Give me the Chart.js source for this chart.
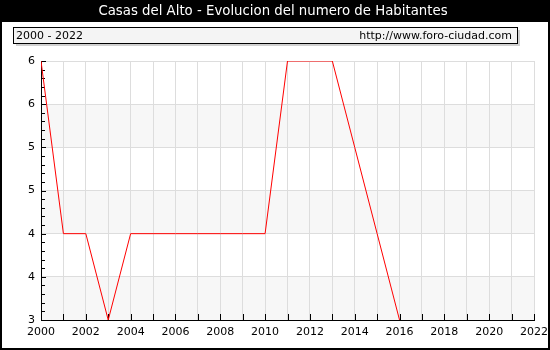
<!DOCTYPE html>
<html>
<head>
<meta charset="utf-8">
<script src="https://cdn.jsdelivr.net/npm/chart.js@4.4.1/dist/chart.umd.min.js"></script>
<style>
  html, body { margin: 0; padding: 0; background: #fff; }
  #wrap { width: 550px; height: 350px; position: relative; }
</style>
</head>
<body>
<div id="wrap"><canvas id="chart" width="550" height="350"></canvas></div>
<script>
// data
const years = [2000, 2001, 2002, 2003, 2004, 2005, 2006, 2007, 2008, 2009, 2010,
               2011, 2012, 2013, 2014, 2015, 2016];
const habitantes = [6, 4, 4, 3, 4, 4, 4, 4, 4, 4, 4, 6, 6, 6, 5, 4, 3];
const yearRange = [2000, 2022];
const valueRange = [3, 6];

const titleText = "Casas del Alto - Evolucion del numero de Habitantes";
const periodText = "2000 - 2022";
const siteText = "http://www.foro-ciudad.com";

const FONT = "'DejaVu Sans', Verdana, sans-serif";

// background: black title bar, header box, alternating bands
const decorPlugin = {
  id: "decor",
  beforeDraw(chart) {
    const ctx = chart.ctx;
    const area = chart.chartArea;
    const y = chart.scales.y;
    ctx.save();
    ctx.fillStyle = "#fff";
    ctx.fillRect(0, 0, chart.width, chart.height);

    // title bar
    ctx.fillStyle = "#000";
    ctx.fillRect(0, 0, chart.width, 22);
    ctx.fillStyle = "#fff";
    ctx.font = "13.3px " + FONT;
    ctx.textAlign = "center";
    ctx.textBaseline = "middle";
    ctx.fillText(titleText, 273, 12);

    // header box with shadow
    ctx.fillStyle = "#d0d0d0";
    ctx.fillRect(16, 30, 504, 16);
    ctx.fillStyle = "#f4f4f4";
    ctx.fillRect(13.5, 27.5, 504, 16);
    ctx.strokeStyle = "#000";
    ctx.lineWidth = 1;
    ctx.strokeRect(13.5, 27.5, 504, 16);
    ctx.fillStyle = "#000";
    ctx.font = "11px " + FONT;
    ctx.textAlign = "left";
    ctx.fillText(periodText, 16, 36);
    ctx.textAlign = "right";
    ctx.fillText(siteText, 512, 36);

    // alternating bands every 0.5
    ctx.fillStyle = "#f7f7f7";
    let k = 0;
    for (let v = valueRange[1]; v > valueRange[0]; v -= 0.5, k++) {
      if (k % 2 === 1) {
        const top = y.getPixelForValue(v);
        const bot = y.getPixelForValue(v - 0.5);
        ctx.fillRect(area.left, top, area.right - area.left, bot - top);
      }
    }
    ctx.restore();
  },
  beforeDatasetsDraw(chart) {
    const ctx = chart.ctx;
    const area = chart.chartArea;
    const x = chart.scales.x;
    const y = chart.scales.y;
    ctx.save();
    ctx.strokeStyle = "#000";
    ctx.lineWidth = 1;
    ctx.beginPath();
    // y ticks (major every 0.5, minor every 0.1), pointing into the plot
    for (let i = 0; i <= 30; i++) {
      const v = valueRange[0] + i * 0.1;
      const py = Math.round(y.getPixelForValue(v)) + 0.5;
      ctx.moveTo(area.left, py);
      ctx.lineTo(area.left + (i % 5 === 0 ? 5 : 4), py);
    }
    // x ticks every year
    for (let yr = yearRange[0]; yr <= yearRange[1]; yr++) {
      const px = Math.round(x.getPixelForValue(yr)) + 0.5;
      ctx.moveTo(px, area.bottom);
      ctx.lineTo(px, area.bottom - 6);
    }
    ctx.stroke();
    ctx.restore();
  },
  afterDraw(chart) {
    const ctx = chart.ctx;
    ctx.save();
    ctx.strokeStyle = "#000";
    ctx.lineWidth = 2;
    ctx.strokeRect(1, 1, chart.width - 2, chart.height - 2);
    ctx.restore();
  }
};

new Chart(document.getElementById("chart"), {
  type: "line",
  data: {
    datasets: [{
      data: years.map((yr, i) => ({ x: yr, y: habitantes[i] })),
      borderColor: "#ff0000",
      borderWidth: 1,
      pointRadius: 0,
      tension: 0,
      fill: false
    }]
  },
  options: {
    responsive: false,
    animation: false,
    devicePixelRatio: 1,
    layout: { padding: { top: 61, right: 16, bottom: 0, left: 0 } },
    plugins: { legend: { display: false }, tooltip: { enabled: false }, title: { display: false } },
    scales: {
      x: {
        type: "linear",
        min: yearRange[0],
        max: yearRange[1],
        afterFit(scale) {
          scale.height = 30;
          scale.paddingLeft = 0;
          scale.paddingRight = 0;
        },
        grid: { color: "#dddddd", drawTicks: false },
        border: { color: "#000", width: 1 },
        ticks: {
          stepSize: 1,
          autoSkip: false,
          maxRotation: 0,
          padding: 6,
          color: "#000",
          font: { family: FONT, size: 11 },
          callback: v => (v % 2 === 0 ? String(v) : "")
        }
      },
      y: {
        min: valueRange[0],
        max: valueRange[1],
        afterFit(scale) {
          scale.width = 41;
          scale.paddingTop = 0;
          scale.paddingBottom = 0;
        },
        grid: { color: "#dddddd", drawTicks: false },
        border: { color: "#000", width: 1 },
        ticks: {
          stepSize: 0.5,
          padding: 6,
          color: "#000",
          font: { family: FONT, size: 11 },
          callback: v => v.toFixed(0)
        }
      }
    }
  },
  plugins: [decorPlugin]
});
</script>
</body>
</html>
